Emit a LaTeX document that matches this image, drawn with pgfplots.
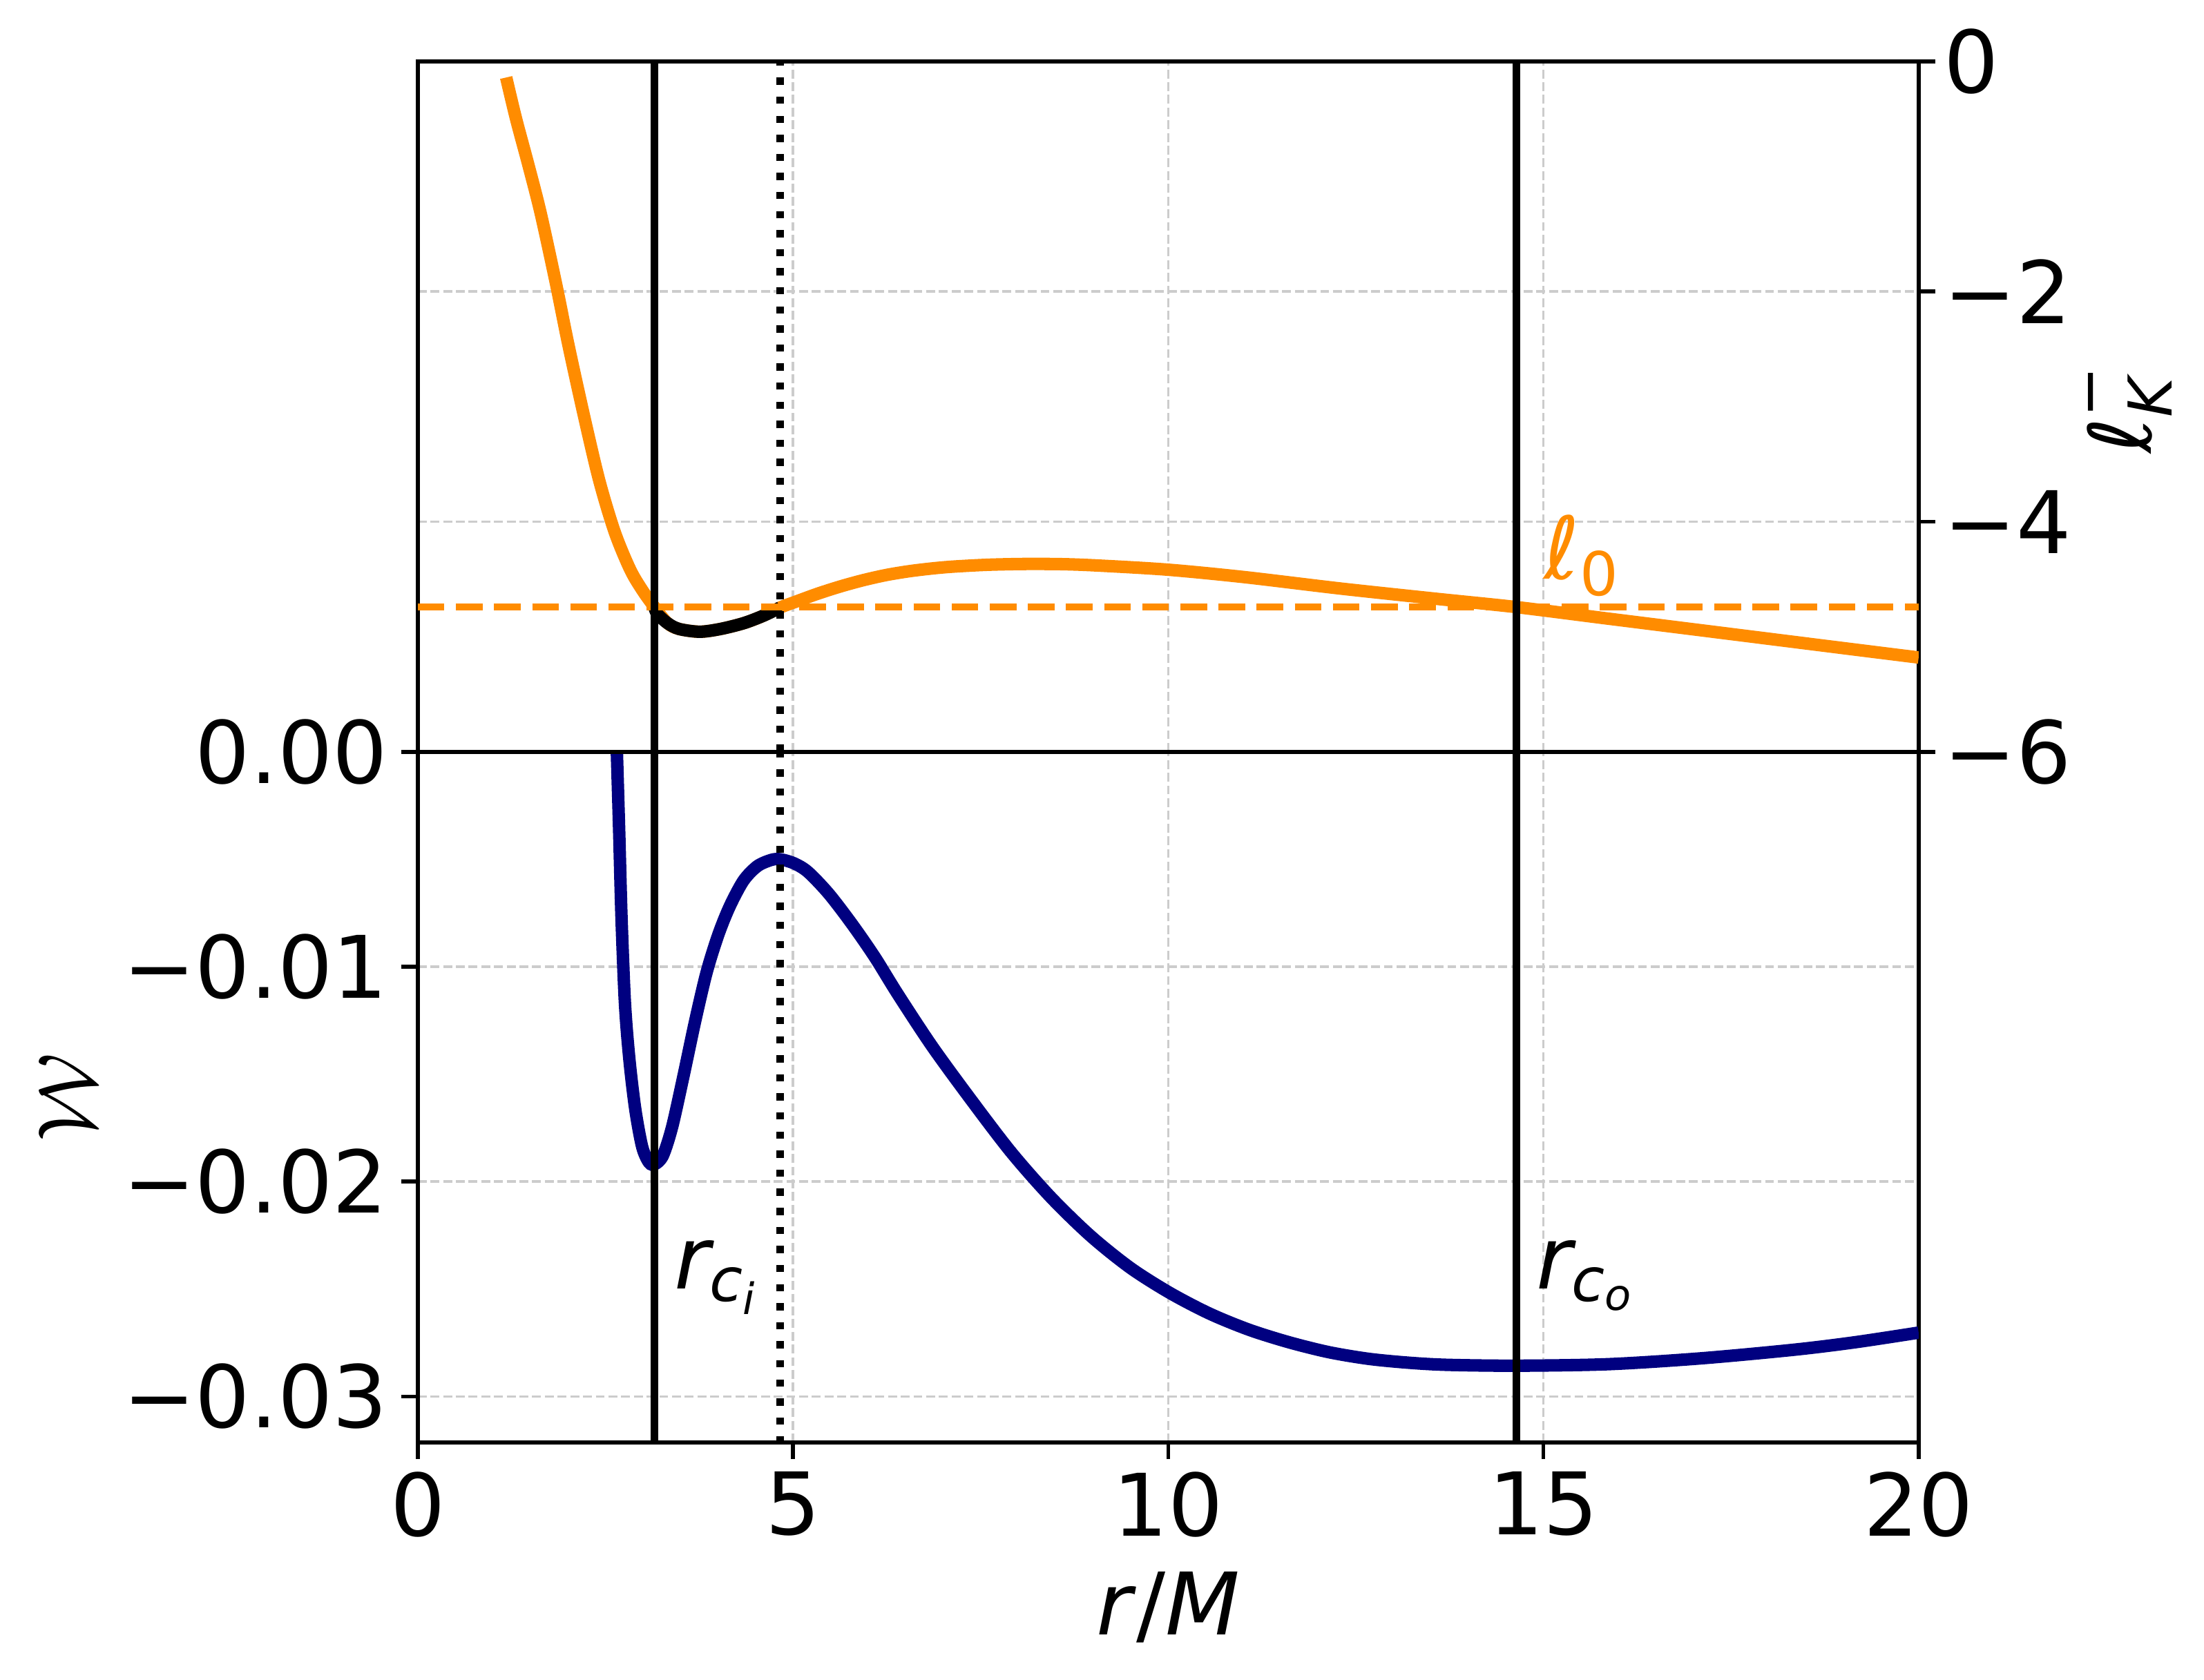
\documentclass[border=0pt]{standalone}
\usepackage{fontspec}
\setmainfont{DejaVu Sans}
\usepackage{amsmath}
\usepackage{pgfplots}
\usepackage{pgfplotstable}
\pgfplotsset{compat=1.18}

\definecolor{korange}{HTML}{FF8C00}
\definecolor{wnavy}{HTML}{000080}
\definecolor{gridgray}{HTML}{CCCCCC}

% effective potential W(r)
\pgfplotstableread{
r W
2.653 0.0
2.684 -0.00372
2.715 -0.00772
2.761 -0.01172
2.822 -0.01439
2.899 -0.01665
2.991 -0.01839
3.083 -0.01912
3.160 -0.01919
3.267 -0.01879
3.390 -0.01745
3.543 -0.01505
3.697 -0.01252
3.850 -0.01025
4.004 -0.00852
4.157 -0.00719
4.341 -0.00599
4.525 -0.00532
4.710 -0.00503
4.832 -0.00500
5.016 -0.00519
5.200 -0.00559
5.476 -0.00660
5.783 -0.00800
6.090 -0.00955
6.397 -0.01128
6.857 -0.01372
7.385 -0.01625
7.913 -0.01866
8.441 -0.02075
8.969 -0.02254
9.497 -0.02402
10.026 -0.02519
10.554 -0.02615
11.08 -0.02690
11.61 -0.02748
12.14 -0.02794
12.67 -0.02825
13.20 -0.02843
13.72 -0.02853
14.64 -0.02857
15.86 -0.02850
17.09 -0.02823
18.33 -0.02783
19.15 -0.02748
20.0 -0.02703
}\wtable

% Keplerian angular momentum l_K^-
\pgfplotstableread{
r l
1.178 -0.14
1.310 -0.50
1.474 -0.90
1.638 -1.32
1.844 -1.938
2.008 -2.466
2.213 -3.075
2.419 -3.644
2.625 -4.091
2.830 -4.415
2.995 -4.598
3.154 -4.742
3.329 -4.882
3.482 -4.932
3.758 -4.956
4.034 -4.932
4.341 -4.882
4.586 -4.822
4.83 -4.745
5.016 -4.700
5.322 -4.627
5.629 -4.563
5.936 -4.508
6.243 -4.463
6.55 -4.430
6.856 -4.406
7.138 -4.390
7.6 -4.374
8.106 -4.367
8.6 -4.369
9.074 -4.381
9.998 -4.417
11.01 -4.481
12.30 -4.581
13.59 -4.671
14.64 -4.742
15.86 -4.842
17.50 -4.976
19.15 -5.111
20.0 -5.180
}\ltable

% part below l_0, between r_ci and the centre
\pgfplotstableread{
r l
3.154 -4.742
3.19 -4.80
3.329 -4.882
3.482 -4.932
3.758 -4.956
4.034 -4.932
4.341 -4.882
4.586 -4.822
4.755 -4.771
4.83 -4.745
}\lbelow

\pgfplotsset{
  panel/.style={
    scale only axis, width=312.9pt, height=144pt,
    xmin=0, xmax=20,
    scaled y ticks=false, scaled x ticks=false,
    axis line style={line width=0.8pt},
    tick align=outside, major tick length=3.5pt,
    every tick/.style={black, line width=0.8pt},
    grid=major,
    major grid style={gridgray, line width=0.5pt, dash pattern=on 1.85pt off 0.8pt},
    tick label style={inner sep=0pt},
  },
}

\begin{document}
\fontsize{18}{21.6}\selectfont
\begin{tikzpicture}
\useasboundingbox (-87.1pt,-49.45pt) rectangle (372.4pt,300.8pt);

\begin{axis}[panel, at={(0pt,0pt)}, anchor=south west,
  ymin=-0.03214, ymax=0,
  xtick={0,5,10,15,20}, xticklabels={0,5,10,15,20},
  ytick={-0.03,-0.02,-0.01,0}, yticklabels={−0.03,−0.02,−0.01,0.00},
  xtick pos=left, ytick pos=left,
  xticklabel style={yshift=-2.4pt},
  yticklabel style={xshift=-2.6pt},
]
\addplot[wnavy, line width=2.6pt, smooth, no marks] table[x=r, y=W]{\wtable};
\addplot[black, line width=1.5pt, no marks] coordinates {(3.154,-0.04) (3.154,0.001)};
\addplot[black, line width=1.5pt, no marks] coordinates {(14.64,-0.04) (14.64,0.001)};
\addplot[black, line width=1.5pt, no marks, dash pattern=on 1.5pt off 2.475pt] coordinates {(4.83,-0.0322) (4.83,0)};
\node[anchor=base west, inner sep=0pt] at (axis cs:3.404,-0.025) {$\textit{r}_{\textit{c}_{\textit{i}}}$};
\node[anchor=base west, inner sep=0pt] at (axis cs:14.89,-0.025) {$\textit{r}_{\textit{c}_{\textit{o}}}$};
\end{axis}

\begin{axis}[panel, at={(0pt,144pt)}, anchor=south west,
  ymin=-6, ymax=0,
  xtick={0,5,10,15,20}, xticklabels={}, xtick style={draw=none},
  ytick={-6,-4,-2,0}, yticklabels={−6,−4,−2,0},
  ytick pos=right, yticklabel pos=right,
  yticklabel style={xshift=1.6pt},
]
\addplot[korange, line width=2.6pt, smooth, no marks] table[x=r, y=l]{\ltable};
\addplot[black, line width=2.6pt, smooth, no marks] table[x=r, y=l]{\lbelow};
\addplot[korange, line width=1.5pt, no marks, dash pattern=on 5.55pt off 2.4pt] coordinates {(0,-4.742) (20,-4.742)};
\addplot[black, line width=1.5pt, no marks] coordinates {(3.154,-7) (3.154,1)};
\addplot[black, line width=1.5pt, no marks] coordinates {(14.64,-7) (14.64,1)};
\addplot[black, line width=1.5pt, no marks, dash pattern=on 1.5pt off 2.475pt] coordinates {(4.83,-6) (4.83,0)};
\node[korange, anchor=base west, inner sep=0pt] at (axis cs:15.0,-4.5) {$\textit{ℓ}_{\text{0}}$};
\end{axis}

\node[rotate=90, anchor=base, inner sep=0pt] at (-67.2pt,72pt) {$\mathcal{W}$};
\node[rotate=90, anchor=base, inner sep=0pt] at (361.4pt,215.5pt) {$\textit{ℓ}_{\textit{K}}^{\text{−}}$};
\node[anchor=base, inner sep=0pt] at (156.45pt,-40.1pt) {\textit{r}/\textit{M}};
\end{tikzpicture}
\end{document}
